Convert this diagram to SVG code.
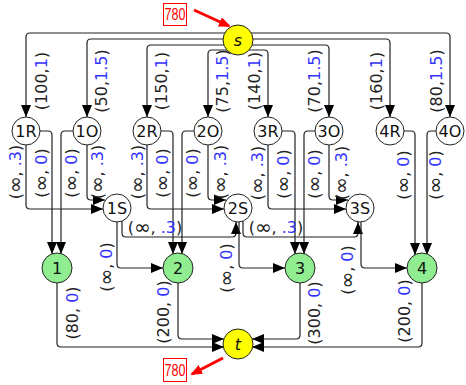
<svg xmlns="http://www.w3.org/2000/svg" width="466" height="385" viewBox="0 0 466 385">
<style>
.e{fill:none;stroke:#222;stroke-width:1.2;marker-end:url(#a)}
.n{fill:#fff;stroke:#222;stroke-width:1}
.g{fill:#90ee90;stroke:#222;stroke-width:1}
.y{fill:#ff0;stroke:#222;stroke-width:1}
.t{font-family:"DejaVu Sans",sans-serif;font-size:16px;fill:#111;text-anchor:middle;dominant-baseline:central}
.l{font-family:"DejaVu Sans",sans-serif;font-size:16px;fill:#222;text-anchor:middle;dominant-baseline:central}
.b{fill:#3333ff}
.i{font-size:20px}
.r{fill:none;stroke:#f00;stroke-width:3;marker-end:url(#ra)}
</style>
<defs>
<marker id="a" viewBox="0 0 12 10" refX="12" refY="5" markerWidth="12" markerHeight="10" markerUnits="userSpaceOnUse" orient="auto"><path d="M0,0L12,5L0,10z" fill="#000"/></marker>
<marker id="ra" viewBox="0 0 12 10" refX="10" refY="5" markerWidth="12" markerHeight="10" markerUnits="userSpaceOnUse" orient="auto"><path d="M0,0L12,5L0,10z" fill="#f00"/></marker>
</defs>
<g id="connectors">
<path class="e" d="M238,33 H30 Q26,33 26,37 V117"/>
<path class="e" d="M238,39 H91 Q87,39 87,43 V117"/>
<path class="e" d="M238,45 H151 Q147,45 147,49 V117"/>
<path class="e" d="M238,50 H212 Q208,50 208,54 V117"/>
<path class="e" d="M238,50 H264 Q268,50 268,54 V117"/>
<path class="e" d="M238,45 H325 Q329,45 329,49 V117"/>
<path class="e" d="M238,39 H386 Q390,39 390,43 V117"/>
<path class="e" d="M238,33 H446 Q450,33 450,37 V117"/>
<path class="e" d="M40,131 H48 Q52,131 52,135 V254"/>
<path class="e" d="M73,131 H65 Q61,131 61,135 V254"/>
<path class="e" d="M26,145 V205 Q26,209 30,209 H103"/>
<path class="e" d="M87,145 V196 Q87,200 91,200 H105"/>
<path class="e" d="M161,131 H169 Q173,131 173,135 V254"/>
<path class="e" d="M194,131 H186 Q182,131 182,135 V254"/>
<path class="e" d="M147,145 V205 Q147,209 151,209 H224"/>
<path class="e" d="M208,145 V196 Q208,200 212,200 H226"/>
<path class="e" d="M282,131 H291 Q295,131 295,135 V254"/>
<path class="e" d="M315,131 H308 Q304,131 304,135 V254"/>
<path class="e" d="M268,145 V205 Q268,209 272,209 H346"/>
<path class="e" d="M329,145 V196 Q329,200 333,200 H348"/>
<path class="e" d="M404,131 H411 Q415,131 415,135 V255"/>
<path class="e" d="M436,131 H431 Q427,131 427,135 V255"/>
<path class="e" d="M117,222 V264 Q117,268 121,268 H163"/>
<path class="e" d="M122,221 V233 Q122,237 126,237 H232 Q236,237 236,233 V222"/>
<path class="e" d="M239,222 V264 Q239,268 243,268 H285"/>
<path class="e" d="M243,221 V233 Q243,237 247,237 H354 Q358,237 358,233 V222"/>
<path class="e" d="M361,222 V264 Q361,268 365,268 H407"/>
<path class="e" d="M57,283 V343 Q57,347 61,347 H224"/>
<path class="e" d="M178,283 V335 Q178,339 182,339 H224"/>
<path class="e" d="M300,283 V335 Q300,339 296,339 H252"/>
<path class="e" d="M422,283 V343 Q422,347 418,347 H252"/>
</g>
<g id="edge-labels">
<text class="l" transform="translate(41,81) rotate(-90)">(100,<tspan class="b">1</tspan>)</text>
<text class="l" transform="translate(101,81) rotate(-90)">(50,<tspan class="b">1.5</tspan>)</text>
<text class="l" transform="translate(161,81) rotate(-90)">(150,<tspan class="b">1</tspan>)</text>
<text class="l" transform="translate(222,81) rotate(-90)">(75,<tspan class="b">1.5</tspan>)</text>
<text class="l" transform="translate(254,81) rotate(-90)">(140,<tspan class="b">1</tspan>)</text>
<text class="l" transform="translate(314,81) rotate(-90)">(70,<tspan class="b">1.5</tspan>)</text>
<text class="l" transform="translate(376,81) rotate(-90)">(160,<tspan class="b">1</tspan>)</text>
<text class="l" transform="translate(436,81) rotate(-90)">(80,<tspan class="b">1.5</tspan>)</text>
<text class="l" transform="translate(15,172) rotate(-90)">(<tspan class="i">∞</tspan>, <tspan class="b">.3</tspan>)</text>
<text class="l" transform="translate(41,173) rotate(-90)">(<tspan class="i">∞</tspan>, <tspan class="b">0</tspan>)</text>
<text class="l" transform="translate(71,173) rotate(-90)">(<tspan class="i">∞</tspan>, <tspan class="b">0</tspan>)</text>
<text class="l" transform="translate(97,172) rotate(-90)">(<tspan class="i">∞</tspan>, <tspan class="b">.3</tspan>)</text>
<text class="l" transform="translate(137,172) rotate(-90)">(<tspan class="i">∞</tspan>, <tspan class="b">.3</tspan>)</text>
<text class="l" transform="translate(162,173) rotate(-90)">(<tspan class="i">∞</tspan>, <tspan class="b">0</tspan>)</text>
<text class="l" transform="translate(192,173) rotate(-90)">(<tspan class="i">∞</tspan>, <tspan class="b">0</tspan>)</text>
<text class="l" transform="translate(220,172) rotate(-90)">(<tspan class="i">∞</tspan>, <tspan class="b">.3</tspan>)</text>
<text class="l" transform="translate(257,173) rotate(-90)">(<tspan class="i">∞</tspan>, <tspan class="b">.3</tspan>)</text>
<text class="l" transform="translate(283,174) rotate(-90)">(<tspan class="i">∞</tspan>, <tspan class="b">0</tspan>)</text>
<text class="l" transform="translate(314,174) rotate(-90)">(<tspan class="i">∞</tspan>, <tspan class="b">0</tspan>)</text>
<text class="l" transform="translate(341,173) rotate(-90)">(<tspan class="i">∞</tspan>, <tspan class="b">.3</tspan>)</text>
<text class="l" transform="translate(403,175) rotate(-90)">(<tspan class="i">∞</tspan>, <tspan class="b">0</tspan>)</text>
<text class="l" transform="translate(435,175) rotate(-90)">(<tspan class="i">∞</tspan>, <tspan class="b">0</tspan>)</text>
<text class="l" x="155" y="227">(<tspan class="i">∞</tspan>, <tspan class="b">.3</tspan>)</text>
<text class="l" x="276" y="227">(<tspan class="i">∞</tspan>, <tspan class="b">.3</tspan>)</text>
<text class="l" transform="translate(106,267) rotate(-90)">(<tspan class="i">∞</tspan>, <tspan class="b">0</tspan>)</text>
<text class="l" transform="translate(226,268) rotate(-90)">(<tspan class="i">∞</tspan>, <tspan class="b">0</tspan>)</text>
<text class="l" transform="translate(347,270) rotate(-90)">(<tspan class="i">∞</tspan>, <tspan class="b">0</tspan>)</text>
<text class="l" transform="translate(72,313) rotate(-90)">(80, <tspan class="b">0</tspan>)</text>
<text class="l" transform="translate(163,312) rotate(-90)">(200, <tspan class="b">0</tspan>)</text>
<text class="l" transform="translate(314,313) rotate(-90)">(300, <tspan class="b">0</tspan>)</text>
<text class="l" transform="translate(404,311) rotate(-90)">(200, <tspan class="b">0</tspan>)</text>
</g>
<g id="s"><circle class="y" cx="238" cy="40" r="15"/><text class="t" x="238" y="40" font-style="italic">s</text></g>
<g id="n1R"><circle class="n" cx="26" cy="131" r="14"/><text class="t" x="26" y="131">1R</text></g>
<g id="n1O"><circle class="n" cx="87" cy="131" r="14"/><text class="t" x="87" y="131">1O</text></g>
<g id="n2R"><circle class="n" cx="147" cy="131" r="14"/><text class="t" x="147" y="131">2R</text></g>
<g id="n2O"><circle class="n" cx="208" cy="131" r="14"/><text class="t" x="208" y="131">2O</text></g>
<g id="n3R"><circle class="n" cx="268" cy="131" r="14"/><text class="t" x="268" y="131">3R</text></g>
<g id="n3O"><circle class="n" cx="329" cy="131" r="14"/><text class="t" x="329" y="131">3O</text></g>
<g id="n4R"><circle class="n" cx="390" cy="131" r="14"/><text class="t" x="390" y="131">4R</text></g>
<g id="n4O"><circle class="n" cx="450" cy="131" r="14"/><text class="t" x="450" y="131">4O</text></g>
<g id="n1S"><circle class="n" cx="117" cy="208" r="14"/><text class="t" x="117" y="208">1S</text></g>
<g id="n2S"><circle class="n" cx="238" cy="208" r="14"/><text class="t" x="238" y="208">2S</text></g>
<g id="n3S"><circle class="n" cx="360" cy="208" r="14"/><text class="t" x="360" y="208">3S</text></g>
<g id="n1"><circle class="g" cx="57" cy="268" r="15"/><text class="t" x="57" y="268">1</text></g>
<g id="n2"><circle class="g" cx="178" cy="268" r="15"/><text class="t" x="178" y="268">2</text></g>
<g id="n3"><circle class="g" cx="300" cy="268" r="15"/><text class="t" x="300" y="268">3</text></g>
<g id="n4"><circle class="g" cx="422" cy="268" r="15"/><text class="t" x="422" y="268">4</text></g>
<g id="t"><circle class="y" cx="238" cy="344" r="15"/><text class="t" x="238" y="344" font-style="italic">t</text></g>
<g id="flow-in">
<rect x="163.5" y="3.5" width="23" height="22" fill="none" stroke="#f00" stroke-width="1"/>
<text x="175" y="20" font-family="'Liberation Sans',sans-serif" font-size="16" fill="#f00" text-anchor="middle" textLength="21" lengthAdjust="spacingAndGlyphs">780</text>
<path class="r" d="M194,10 L229,26"/>
</g>
<g id="flow-out">
<rect x="163.5" y="358.5" width="23" height="23" fill="none" stroke="#f00" stroke-width="1"/>
<text x="175" y="376" font-family="'Liberation Sans',sans-serif" font-size="16" fill="#f00" text-anchor="middle" textLength="21" lengthAdjust="spacingAndGlyphs">780</text>
<path class="r" d="M223,358 L192,374"/>
</g>
</svg>
